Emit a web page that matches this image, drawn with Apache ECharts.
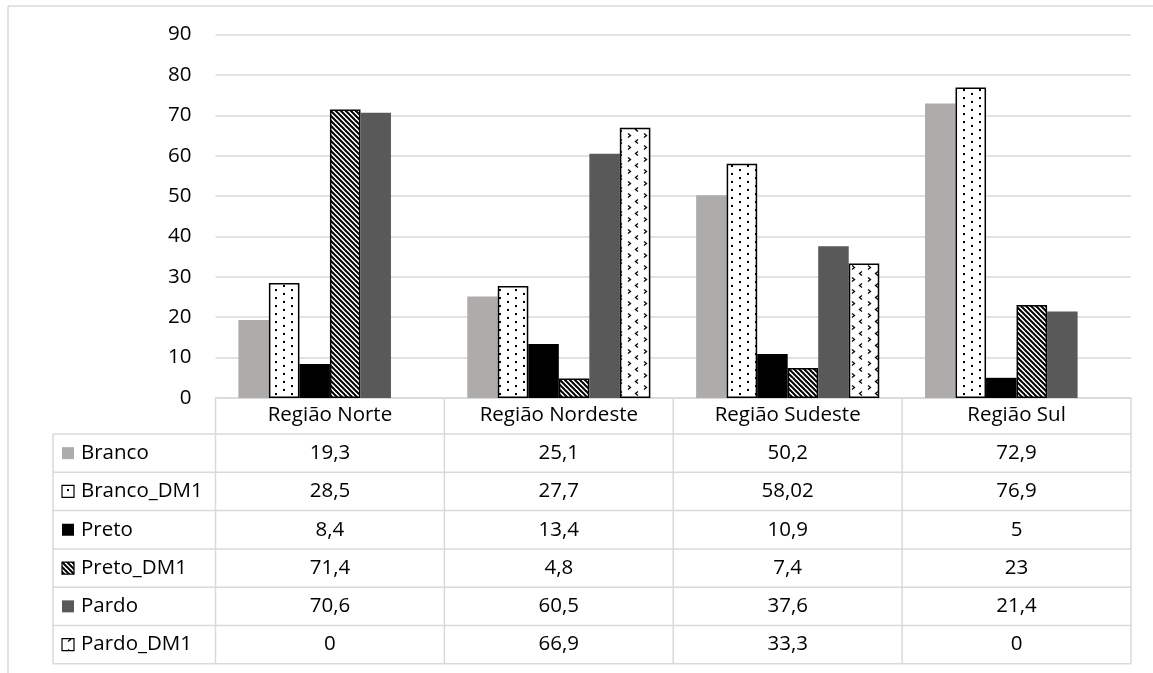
<!DOCTYPE html>
<html>
<head>
<meta charset="utf-8">
<script src="https://cdn.jsdelivr.net/npm/echarts@6/dist/echarts.min.js"></script>
<style>
  html, body { margin: 0; padding: 0; background: #fff; }
  #chart { width: 1153px; height: 673px; }
</style>
</head>
<body>
<div id="chart"></div>
<script>
// Regions (categories) and the six groups shown as bars
const categories = ['Região Norte', 'Região Nordeste', 'Região Sudeste', 'Região Sul'];
const seriesNames = ['Branco', 'Branco_DM1', 'Preto', 'Preto_DM1', 'Pardo', 'Pardo_DM1'];

const branco    = [19.3, 25.1, 50.2, 72.9];
const brancoDM1 = [28.5, 27.7, 58.02, 76.9];
const preto     = [8.4, 13.4, 10.9, 5];
const pretoDM1  = [71.4, 4.8, 7.4, 23];
const pardo     = [70.6, 60.5, 37.6, 21.4];
const pardoDM1  = [0, 66.9, 33.3, 0];

const yMin = 0, yMax = 90, yStep = 10;

const FONT = '"Open Sans", "Liberation Sans", sans-serif';
const FS = 20.5;
const TEXT = '#000';
const LINE = '#d9d9d9';

// ---- fill patterns ----
function tile(w, h, draw) {
  const c = document.createElement('canvas');
  c.width = w; c.height = h;
  const ctx = c.getContext('2d');
  ctx.fillStyle = '#fff';
  ctx.fillRect(0, 0, w, h);
  draw(ctx);
  return c;
}
const dotTile = tile(16, 8, ctx => {
  ctx.fillStyle = '#000';
  ctx.fillRect(3, 1, 2, 2);
  ctx.fillRect(11, 5, 2, 2);
});
const stripeTile = tile(5, 5, ctx => {
  ctx.strokeStyle = '#000';
  ctx.lineWidth = 2;
  [-5, 0, 5].forEach(x0 => {
    ctx.beginPath();
    ctx.moveTo(x0 - 1, -1);
    ctx.lineTo(x0 + 6, 6);
    ctx.stroke();
  });
});
const chevronTile = tile(16, 12, ctx => {
  ctx.strokeStyle = '#000';
  ctx.lineWidth = 1.3;
  ctx.beginPath();
  ctx.moveTo(4, 1.5); ctx.lineTo(6.5, 3.5); ctx.lineTo(4, 5.5);
  ctx.stroke();
  ctx.beginPath();
  ctx.moveTo(14, 7.5); ctx.lineTo(11.5, 9.5); ctx.lineTo(14, 11.5);
  ctx.stroke();
});

const styles = [
  { color: '#aeabab' },
  { color: { image: dotTile, repeat: 'repeat' }, borderColor: '#000', borderWidth: 1.5 },
  { color: '#000000' },
  { color: { image: stripeTile, repeat: 'repeat' }, borderColor: '#000', borderWidth: 1.5 },
  { color: '#595959' },
  { color: { image: chevronTile, repeat: 'repeat' }, borderColor: '#000', borderWidth: 1.5 }
];
const seriesData = [branco, brancoDM1, preto, pretoDM1, pardo, pardoDM1];

const chart = echarts.init(document.getElementById('chart'), null, { renderer: 'canvas' });

const option = {
  animation: false,
  backgroundColor: '#fff',
  textStyle: { fontFamily: FONT },
  grid: { left: 215.5, right: 22, top: 34.5, bottom: 275, containLabel: false },
  xAxis: {
    type: 'category',
    data: categories,
    axisLine: { show: true, lineStyle: { color: LINE, width: 1.5 } },
    axisTick: { show: false },
    axisLabel: { color: TEXT, fontSize: FS, fontFamily: FONT, margin: 7, verticalAlign: 'top' },
    splitLine: { show: false }
  },
  yAxis: {
    type: 'value',
    min: yMin, max: yMax, interval: yStep,
    axisLine: { show: false },
    axisTick: { show: false },
    axisLabel: { color: TEXT, fontSize: FS, fontFamily: FONT, margin: 24 },
    splitLine: { lineStyle: { color: LINE, width: 1.5 } }
  },
  series: seriesNames.map((name, i) => ({
    name,
    type: 'bar',
    // an empty (zero) bar gets no outline
    data: seriesData[i].map(v => v === 0 ? { value: v, itemStyle: { borderWidth: 0 } } : v),
    barGap: '0%',
    barCategoryGap: '20%',
    itemStyle: styles[i]
  }))
};
chart.setOption(option);

// ---- data table under the plot, aligned to the category bands ----
function fmt(v) { return String(v).replace('.', ','); }

function buildTable() {
  const centers = categories.map((_, i) => chart.convertToPixel({ gridIndex: 0 }, [i, 0]));
  const band = centers[1][0] - centers[0][0];
  const top = centers[0][1];
  const headerH = 36;
  const rowH = 38.3;
  const leftX = 53;
  const colEdges = [centers[0][0] - band / 2].concat(centers.map(c => c[0] + band / 2));
  const rightX = colEdges[colEdges.length - 1];
  const bodyTop = top + headerH;
  const bottom = bodyTop + rowH * seriesNames.length;

  const els = [];
  const line = (x1, y1, x2, y2) => els.push({
    type: 'line', silent: true,
    shape: { x1, y1, x2, y2 },
    style: { stroke: LINE, lineWidth: 1.5 }
  });

  // outer frame of the chart area
  line(8, 6, 1153, 6);
  line(8, 6, 8, 673);

  // vertical cell borders
  colEdges.forEach(x => line(x, top, x, bottom));
  line(leftX, bodyTop, leftX, bottom);
  // horizontal cell borders
  for (let r = 0; r <= seriesNames.length; r++) {
    const y = bodyTop + r * rowH;
    line(leftX, y, rightX, y);
  }

  seriesNames.forEach((name, r) => {
    const cy = bodyTop + r * rowH + rowH / 2;
    const st = styles[r];
    els.push({
      type: 'rect', silent: true,
      shape: { x: 62, y: cy - 6, width: 12, height: 12 },
      style: {
        fill: st.color,
        stroke: st.borderColor || null,
        lineWidth: st.borderColor ? 1.2 : 0
      }
    });
    els.push({
      type: 'text', silent: true,
      x: 81, y: cy,
      style: { text: name, fill: TEXT, font: FS + 'px ' + FONT, verticalAlign: 'middle', align: 'left' }
    });
    seriesData[r].forEach((v, c) => {
      els.push({
        type: 'text', silent: true,
        x: centers[c][0], y: cy,
        style: { text: fmt(v), fill: TEXT, font: FS + 'px ' + FONT, verticalAlign: 'middle', align: 'center' }
      });
    });
  });

  chart.setOption({ graphic: { elements: els } });
}
buildTable();
</script>
</body>
</html>
